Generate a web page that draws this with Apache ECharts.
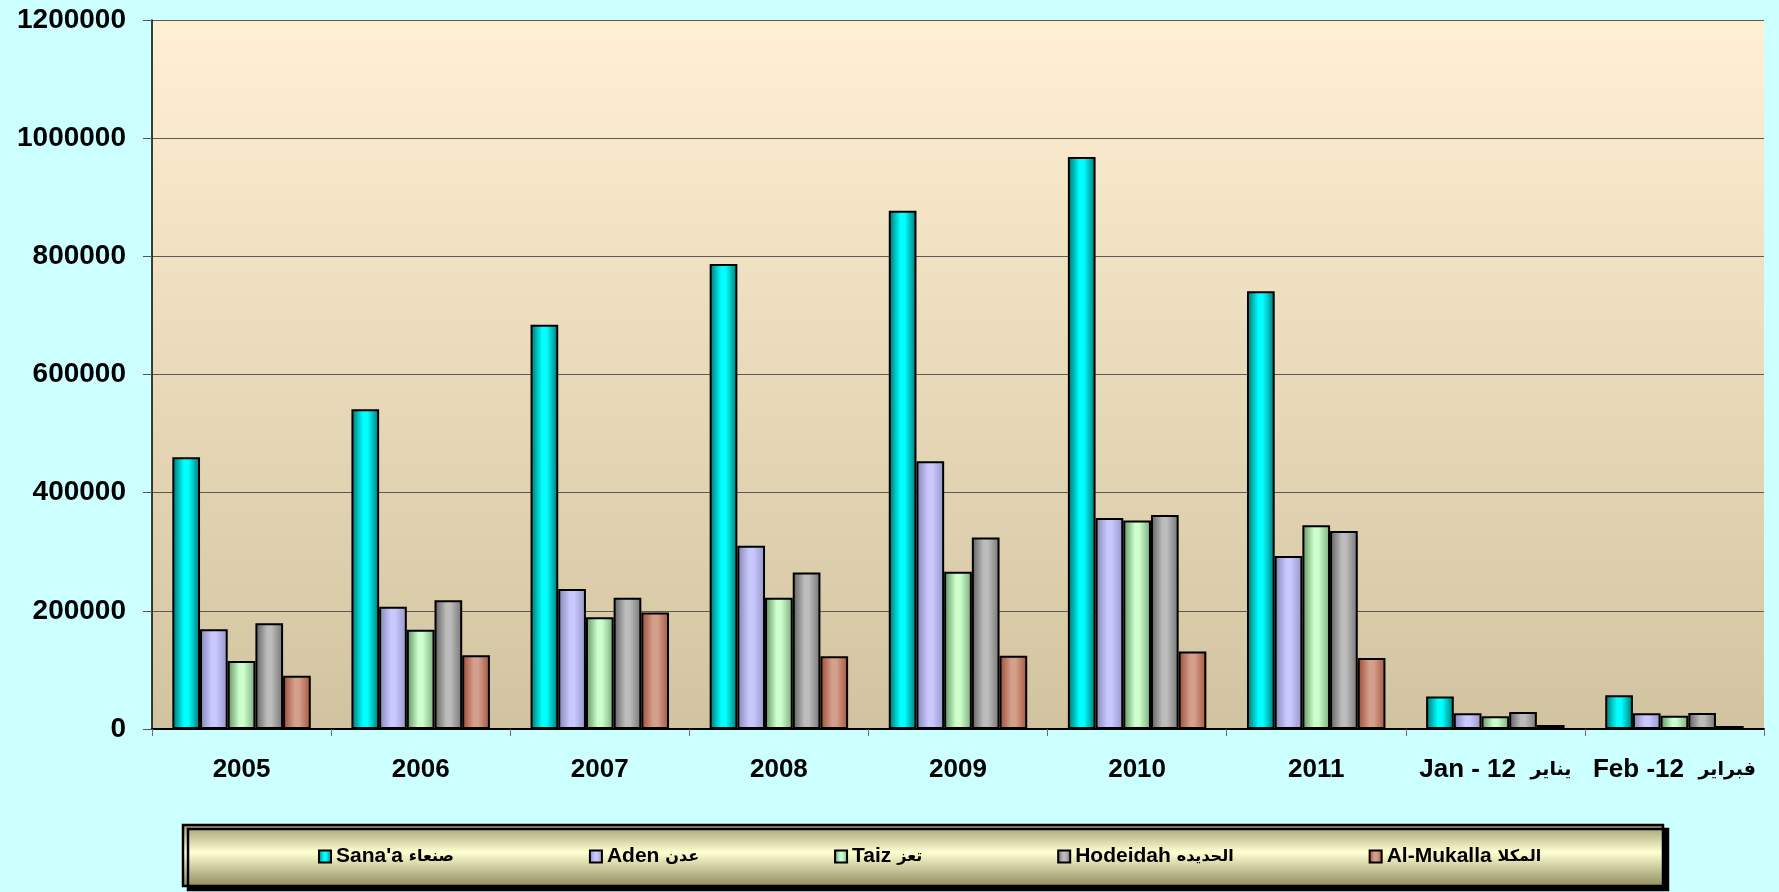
<!DOCTYPE html>
<html>
<head>
<meta charset="utf-8">
<title>chart</title>
<script src="https://cdn.jsdelivr.net/npm/echarts@6/dist/echarts.min.js"></script>
<style>
    html,body{margin:0;padding:0;background:#ccffff;}
    #main{width:1779px;height:892px;}
</style>
</head>
<body>
<div id="main"></div>
<script>
// categories on the x axis (latin part / arabic part)
var categories = ['2005','2006','2007','2008','2009','2010','2011','Jan - 12 يناير','Feb -12  فبراير'];
var catEn = ['2005','2006','2007','2008','2009','2010','2011','Jan - 12','Feb -12'];
var catAr = ['','','','','','','','يناير','فبراير'];
// one array per city
var sanaa    = [460000, 541000, 684000, 787000, 877000, 968000, 741000, 55000, 57000];
var aden     = [169000, 207000, 237000, 310000, 453000, 357000, 293000, 26600, 26600];
var taiz     = [115000, 168000, 189000, 222000, 266000, 353000, 345000, 21500, 22600];
var hodeidah = [179000, 218000, 222000, 265000, 324000, 362000, 335000, 28800, 27100];
var mukalla  = [90000, 125000, 197000, 123000, 124000, 131000, 120000, 6800, 5100];
var seriesEn = ["Sana'a", 'Aden', 'Taiz', 'Hodeidah', 'Al-Mukalla'];
var seriesAr = ['صنعاء', 'عدن', 'تعز', 'الحديده', 'المكلا'];
var yTicks = [0, 200000, 400000, 600000, 800000, 1000000, 1200000];

var FONT = 'Arial, "Liberation Sans", "DejaVu Sans", sans-serif';
var AFONT = '"DejaVu Sans", sans-serif';

var seriesNames = [];
for(var k=0;k<seriesEn.length;k++){ seriesNames.push(seriesEn[k]+' '+seriesAr[k]); }

// horizontal gradient: dark edges, light center (like the excel fill)
function barFill(dark, light, dark2){
    return new echarts.graphic.LinearGradient(0, 0, 1, 0, [
        {offset:0, color:dark},
        {offset:0.42, color:light},
        {offset:0.58, color:light},
        {offset:1, color:dark2}
    ]);
}
var fills = [
    barFill('#006e6e', '#00ffff', '#007474'),
    barFill('#8282b0', '#c8c8ff', '#9494c4'),
    barFill('#5f905f', '#ccffcc', '#7aa87a'),
    barFill('#5e5e5e', '#bcbcbc', '#747474'),
    barFill('#9c4a34', '#d4a08c', '#a4553c')
];
var allData = [sanaa, aden, taiz, hodeidah, mukalla];

var series = [];
for(var i=0;i<allData.length;i++){
    series.push({
        name: seriesNames[i],
        type: 'bar',
        barGap: '0%',
        barCategoryGap: '22.7%',
        itemStyle: {color: fills[i], borderColor:'#000', borderWidth:2},
        emphasis: {disabled:true},
        data: allData[i]
    });
}

var option = {
    animation: false,
    backgroundColor: '#ccffff',
    grid: {
        left: 152, right: 15, top: 20, bottom: 163,
        show: true,
        borderWidth: 0,
        backgroundColor: new echarts.graphic.LinearGradient(0, 0, 0, 1, [
            {offset:0, color:'#fff0d4'},
            {offset:1, color:'#d2c3a0'}
        ])
    },
    graphic: [{
        type: 'rect',
        z: 0,
        shape: {x:183, y:825, width:1480, height:61},
        style: {
            fill: new echarts.graphic.LinearGradient(0, 0, 0, 1, [
                {offset:0, color:'#9a986a'},
                {offset:0.45, color:'#ffffd2'},
                {offset:1, color:'#8c8a5c'}
            ]),
            stroke: '#000',
            lineWidth: 2.5,
            shadowColor: '#000',
            shadowOffsetX: 5,
            shadowOffsetY: 4,
            shadowBlur: 0
        }
    }],
    legend: {
        data: seriesNames,
        left: 318,
        top: 846,
        padding: 0,
        z: 10,
        icon: 'rect',
        itemWidth: 12,
        itemHeight: 12,
        itemGap: 135,
        selectedMode: false,
        formatter: function(name){
            var n = seriesNames.indexOf(name);
            return '{en|'+seriesEn[n]+'} {ar|'+seriesAr[n]+'}';
        },
        textStyle: {
            color:'#000', fontSize:21, fontWeight:'bold', fontFamily:FONT,
            rich: {
                en: {color:'#000', fontSize:21, fontWeight:'bold', fontFamily:FONT},
                ar: {color:'#000', fontSize:16, fontWeight:'bold', fontFamily:AFONT}
            }
        }
    },
    xAxis: {
        type: 'category',
        data: categories,
        axisLine: {show:true, lineStyle:{color:'#000', width:2}},
        axisTick: {show:true, length:7, lineStyle:{color:'#6e6e6e'}},
        axisLabel: {
            margin: 28,
            color: '#000',
            fontSize: 26,
            fontWeight: 'bold',
            fontFamily: FONT,
            interval: 0,
            formatter: function(v, idx){
                if(!catAr[idx]) return '{en|'+catEn[idx]+'}';
                return '{en|'+catEn[idx]+'}  {ar|'+catAr[idx]+'}';
            },
            rich: {
                en: {color:'#000', fontSize:26, fontWeight:'bold', fontFamily:FONT},
                ar: {color:'#000', fontSize:19, fontWeight:'bold', fontFamily:AFONT}
            }
        },
        splitLine: {show:false}
    },
    yAxis: {
        type: 'value',
        min: yTicks[0],
        max: yTicks[yTicks.length-1],
        interval: yTicks[1]-yTicks[0],
        axisLine: {show:true, lineStyle:{color:'#000', width:1.5}},
        axisTick: {show:true, length:9, lineStyle:{color:'#555'}},
        axisLabel: {
            margin: 26,
            color: '#000',
            fontSize: 28,
            fontWeight: 'bold',
            fontFamily: FONT,
            formatter: function(v){ return String(v); }
        },
        splitLine: {show:true, lineStyle:{color:'#5e5a52', width:1}}
    },
    series: series
};

var myChart = echarts.init(document.getElementById('main'));
myChart.setOption(option);
</script>
</body>
</html>
